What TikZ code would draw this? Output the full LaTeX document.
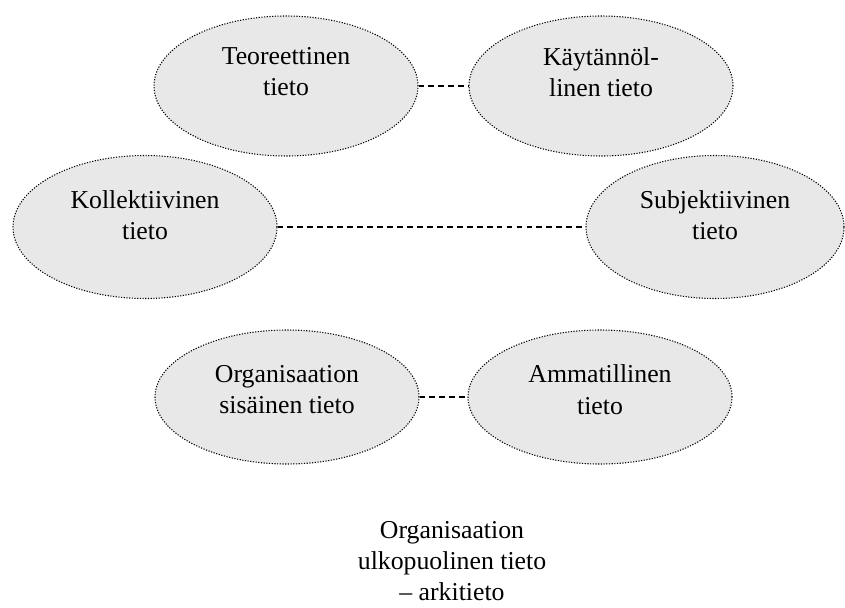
\documentclass[tikz,border=0pt]{standalone}
\usepackage{fontspec}
\setmainfont{Liberation Serif}
\usetikzlibrary{shapes.geometric}

\begin{document}
\begin{tikzpicture}[x=0.03cm, y=-0.03cm,
		tieto/.style={ellipse, draw, line width=0.9pt, dash pattern=on 1pt off 1.3pt,
			fill=black!9, minimum width=7.92cm, minimum height=4.2cm, inner sep=0pt},
		teksti/.style={align=center, font=\fontsize{22}{26.5}\selectfont, inner sep=0pt},
		yhteys/.style={line width=1pt, dash pattern=on 5pt off 3.5pt}]

		% fixed canvas, pixel coordinates from the top left
		\useasboundingbox (0,0) rectangle (845,607);

		% top row
		\node[tieto, label={[teksti, name=teoT, yshift=0.42cm]center:{Teoreettinen\\tieto}}] (teo) at (286,86) {};
		\node[tieto, label={[teksti, name=kayT, yshift=0.42cm]center:{Käytännöl-\\linen tieto}}] (kay) at (601,86) {};

		% middle row
		\node[tieto, minimum height=4.29cm, label={[teksti, name=kolT, yshift=0.36cm]center:{Kollektiivinen\\tieto}}] (kol) at (145,227) {};
		\node[tieto, minimum width=7.74cm, minimum height=4.29cm, label={[teksti, name=subT, yshift=0.36cm]center:{Subjektiivinen\\tieto}}] (sub) at (715,227) {};

		% bottom row
		\node[tieto, minimum height=4.02cm, label={[teksti, name=orgT, yshift=0.22cm]center:{Organisaation\\sisäinen tieto}}] (org) at (287,397) {};
		\node[tieto, minimum height=4.02cm, label={[teksti, name=ammT, yshift=0.22cm]center:{Ammatillinen\\tieto}}] (amm) at (600,397) {};

		% dashed links
		\draw[yhteys] (teo.east) -- (kay.west);
		\draw[yhteys] (kol.east) -- (sub.west);
		\draw[yhteys] (org.east) -- (amm.west);

		% caption below
		\node[teksti] (arki) at (452,561) {Organisaation\\ulkopuolinen tieto\\-- arkitieto};

	\end{tikzpicture}
\end{document}
